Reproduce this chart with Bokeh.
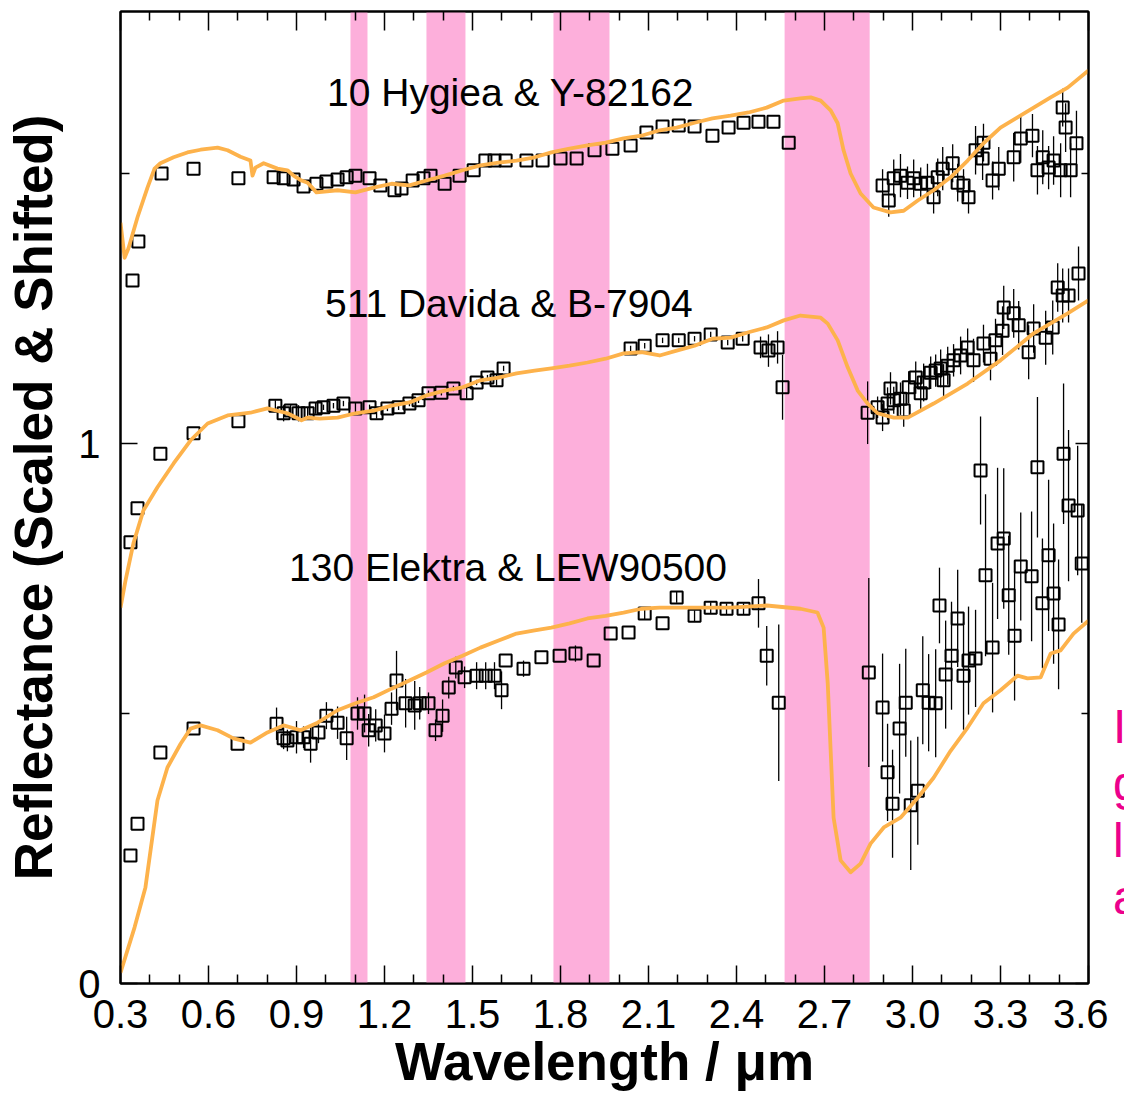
import numpy as np
from bokeh.plotting import figure
from bokeh.layouts import row
from bokeh.models import (FixedTicker, LinearAxis, PrintfTickFormatter, Div,
                          ColumnDataSource)
from bokeh.core.properties import value
from bokeh.embed import file_html
from bokeh.resources import INLINE

# ---------------- data ----------------
# absorption / telluric bands (micron)
band_lo = [1.084, 1.343, 1.776, 2.564]
band_hi = [1.142, 1.476, 1.967, 2.854]

# 10 Hygiea meteorite-model curve (orange)
hyg_model_x = [0.300, 0.314, 0.327, 0.358, 0.392, 0.416, 0.436, 0.481, 0.528, 0.573, 0.631, 0.665, 0.709, 0.743, 0.750,
               0.760, 0.788, 0.835, 0.869, 0.890, 0.917, 0.938, 0.968, 1.040, 1.101, 1.163, 1.224, 1.285, 1.343, 1.405,
               1.466, 1.527, 1.589, 1.650, 1.712, 1.769, 1.831, 1.892, 1.954, 2.015, 2.076, 2.138, 2.196, 2.257, 2.318,
               2.380, 2.441, 2.503, 2.561, 2.618, 2.653, 2.687, 2.721, 2.745, 2.765, 2.789, 2.823, 2.867, 2.925, 2.970,
               3.018, 3.072, 3.130, 3.188, 3.242, 3.300, 3.358, 3.413, 3.471, 3.529, 3.600]
hyg_model_y = [1.409, 1.344, 1.361, 1.419, 1.474, 1.509, 1.519, 1.530, 1.539, 1.544, 1.548, 1.543, 1.531, 1.524, 1.496,
               1.511, 1.519, 1.509, 1.506, 1.496, 1.487, 1.483, 1.465, 1.469, 1.465, 1.474, 1.481, 1.478, 1.487, 1.496,
               1.506, 1.515, 1.520, 1.524, 1.530, 1.539, 1.546, 1.552, 1.557, 1.565, 1.570, 1.580, 1.585, 1.594, 1.602,
               1.607, 1.613, 1.622, 1.635, 1.639, 1.641, 1.635, 1.617, 1.593, 1.543, 1.500, 1.463, 1.437, 1.428, 1.431,
               1.450, 1.469, 1.493, 1.524, 1.556, 1.585, 1.604, 1.622, 1.641, 1.659, 1.691]

# 511 Davida model curve
dav_model_x = [0.300, 0.317, 0.344, 0.378, 0.426, 0.481, 0.539, 0.597, 0.665, 0.743, 0.801, 0.869, 0.917, 0.938, 0.979,
               1.040, 1.101, 1.163, 1.224, 1.285, 1.343, 1.405, 1.466, 1.527, 1.589, 1.650, 1.712, 1.769, 1.831, 1.892,
               1.954, 2.015, 2.076, 2.138, 2.196, 2.257, 2.318, 2.380, 2.441, 2.503, 2.561, 2.618, 2.687, 2.711, 2.745,
               2.779, 2.813, 2.847, 2.881, 2.936, 2.984, 3.072, 3.188, 3.300, 3.413, 3.529, 3.600]
dav_model_y = [0.696, 0.746, 0.815, 0.876, 0.919, 0.963, 1.006, 1.037, 1.052, 1.057, 1.065, 1.056, 1.043, 1.048, 1.046,
               1.048, 1.056, 1.061, 1.070, 1.076, 1.089, 1.098, 1.104, 1.117, 1.122, 1.130, 1.135, 1.139, 1.144, 1.150,
               1.157, 1.167, 1.169, 1.163, 1.172, 1.181, 1.194, 1.196, 1.206, 1.215, 1.228, 1.237, 1.233, 1.222, 1.191,
               1.141, 1.098, 1.074, 1.056, 1.048, 1.048, 1.074, 1.111, 1.154, 1.204, 1.241, 1.265]

# 130 Elektra model curve
ele_model_x = [0.300, 0.348, 0.385, 0.426, 0.460, 0.505, 0.539, 0.573, 0.631, 0.685, 0.743, 0.801, 0.856, 0.914, 0.972,
               1.040, 1.101, 1.163, 1.224, 1.285, 1.343, 1.405, 1.466, 1.527, 1.589, 1.650, 1.712, 1.769, 1.831, 1.892,
               1.954, 2.015, 2.076, 2.138, 2.257, 2.380, 2.503, 2.618, 2.676, 2.697, 2.711, 2.721, 2.731, 2.755, 2.789,
               2.823, 2.857, 2.902, 2.959, 3.018, 3.072, 3.130, 3.188, 3.242, 3.300, 3.358, 3.392, 3.437, 3.471, 3.505,
               3.549, 3.600]
ele_model_y = [0.020, 0.104, 0.178, 0.339, 0.400, 0.444, 0.472, 0.478, 0.469, 0.454, 0.446, 0.465, 0.478, 0.469, 0.483,
               0.506, 0.519, 0.530, 0.546, 0.561, 0.576, 0.593, 0.607, 0.622, 0.635, 0.648, 0.654, 0.659, 0.667, 0.676,
               0.681, 0.687, 0.694, 0.696, 0.696, 0.696, 0.700, 0.694, 0.687, 0.659, 0.556, 0.431, 0.307, 0.228, 0.206,
               0.222, 0.259, 0.289, 0.307, 0.344, 0.381, 0.431, 0.474, 0.519, 0.543, 0.570, 0.565, 0.567, 0.611, 0.617,
               0.648, 0.672]

# 10 Hygiea asteroid spectrum (squares) with errors
hyg_x = [0.341, 0.361, 0.440, 0.549, 0.702, 0.822, 0.856, 0.890, 0.924, 0.968, 1.002, 1.040, 1.071, 1.101, 1.149,
         1.186, 1.234, 1.258, 1.296, 1.333, 1.357, 1.405, 1.456, 1.504, 1.544, 1.575, 1.613, 1.684, 1.739, 1.800,
         1.855, 1.916, 1.977, 2.039, 2.093, 2.148, 2.203, 2.257, 2.318, 2.373, 2.424, 2.475, 2.526, 2.578,
         2.898, 2.919, 2.936, 2.959, 2.983, 3.004, 3.028, 3.051, 3.072, 3.086, 3.103, 3.137, 3.154, 3.174, 3.191,
         3.215, 3.239, 3.242, 3.273, 3.294, 3.345, 3.369, 3.409, 3.426, 3.444, 3.464, 3.481, 3.505, 3.512, 3.522,
         3.539, 3.559]
hyg_y = [1.302, 1.374, 1.500, 1.509, 1.491, 1.493, 1.491, 1.489, 1.476, 1.481, 1.485, 1.489, 1.493, 1.496, 1.491,
         1.478, 1.469, 1.472, 1.487, 1.491, 1.496, 1.481, 1.496, 1.506, 1.524, 1.524, 1.524, 1.524, 1.524, 1.528,
         1.528, 1.543, 1.546, 1.552, 1.576, 1.587, 1.589, 1.587, 1.570, 1.585, 1.594, 1.596, 1.596, 1.557,
         1.478, 1.450, 1.491, 1.496, 1.483, 1.491, 1.481, 1.483, 1.456, 1.493, 1.509, 1.519, 1.483, 1.478, 1.456,
         1.543, 1.528, 1.557, 1.487, 1.509, 1.530, 1.565, 1.570, 1.506, 1.530, 1.511, 1.524, 1.506, 1.622, 1.585,
         1.506, 1.556]
hyg_err = [0.0, 0.0, 0.0, 0.0, 0.0, 0.0, 0.0, 0.0, 0.0, 0.0, 0.0, 0.0, 0.0, 0.0, 0.0,
           0.0, 0.0, 0.0, 0.0, 0.0, 0.0, 0.0, 0.0, 0.0, 0.0, 0.0, 0.0, 0.0, 0.0, 0.0,
           0.0, 0.0, 0.0, 0.0, 0.0, 0.0, 0.0, 0.0, 0.0, 0.0, 0.0, 0.0, 0.0, 0.0,
           0.030, 0.030, 0.035, 0.040, 0.030, 0.035, 0.030, 0.035, 0.030, 0.035, 0.040, 0.035, 0.035, 0.030, 0.030,
           0.045, 0.040, 0.035, 0.035, 0.040, 0.045, 0.045, 0.040, 0.045, 0.050, 0.040, 0.045, 0.050, 0.035, 0.045,
           0.050, 0.060]

# 511 Davida
dav_x = [0.334, 0.358, 0.436, 0.549, 0.702, 0.828, 0.856, 0.880, 0.907, 0.938, 0.965, 0.992, 1.026, 1.060, 1.101,
         1.149, 1.173, 1.210, 1.248, 1.285, 1.316, 1.350, 1.394, 1.435, 1.480, 1.514, 1.551, 1.582, 1.606,
         2.039, 2.087, 2.148, 2.203, 2.257, 2.312, 2.370, 2.421, 2.482, 2.509, 2.540, 2.557,
         2.847, 2.881, 2.898, 2.915, 2.925, 2.936, 2.959, 2.970, 2.987, 3.011, 3.028, 3.038, 3.062, 3.079, 3.096,
         3.106, 3.120, 3.140, 3.164, 3.188, 3.208, 3.242, 3.266, 3.283, 3.307, 3.311, 3.345, 3.362, 3.396, 3.413,
         3.454, 3.478, 3.495, 3.512, 3.532, 3.566]
dav_y = [0.817, 0.880, 0.981, 1.019, 1.041, 1.070, 1.056, 1.061, 1.056, 1.056, 1.065, 1.067, 1.070, 1.074, 1.065,
         1.067, 1.056, 1.065, 1.067, 1.074, 1.080, 1.093, 1.094, 1.102, 1.093, 1.113, 1.122, 1.117, 1.139,
         1.176, 1.181, 1.191, 1.191, 1.194, 1.202, 1.187, 1.194, 1.178, 1.172, 1.178, 1.104,
         1.057, 1.067, 1.048, 1.074, 1.102, 1.080, 1.083, 1.061, 1.104, 1.122, 1.093, 1.113, 1.131, 1.135, 1.139,
         1.117, 1.144, 1.154, 1.163, 1.178, 1.154, 1.185, 1.157, 1.191, 1.209, 1.252, 1.241, 1.219, 1.169, 1.213,
         1.196, 1.215, 1.289, 1.274, 1.274, 1.315]
dav_err = [0.0, 0.0, 0.0, 0.0, 0.0, 0.010, 0.015, 0.010, 0.015, 0.010, 0.010, 0.005, 0.005, 0.005, 0.010,
           0.005, 0.010, 0.005, 0.005, 0.005, 0.005, 0.005, 0.005, 0.005, 0.010, 0.005, 0.005, 0.010, 0.005,
           0.005, 0.005, 0.005, 0.005, 0.005, 0.005, 0.005, 0.005, 0.020, 0.030, 0.030, 0.060,
           0.058, 0.020, 0.025, 0.030, 0.030, 0.025, 0.030, 0.030, 0.030, 0.030, 0.030, 0.035, 0.030, 0.030, 0.035,
           0.030, 0.035, 0.030, 0.035, 0.035, 0.040, 0.035, 0.040, 0.040, 0.045, 0.040, 0.045, 0.045, 0.050, 0.045,
           0.050, 0.050, 0.045, 0.050, 0.050, 0.050]

# 130 Elektra
ele_x = [0.334, 0.358, 0.436, 0.549, 0.699, 0.832, 0.856, 0.869, 0.900, 0.924, 0.948, 0.975, 1.002, 1.040, 1.071,
         1.108, 1.132, 1.146, 1.170, 1.200, 1.224, 1.241, 1.272, 1.303, 1.320, 1.350, 1.374, 1.398, 1.419, 1.443,
         1.473, 1.514, 1.545, 1.575, 1.599, 1.613, 1.674, 1.735, 1.797, 1.851, 1.913, 1.971, 2.032, 2.087, 2.148,
         2.196, 2.257, 2.312, 2.366, 2.424, 2.475, 2.503, 2.544,
         2.851, 2.898, 2.915, 2.932, 2.956, 2.977, 2.994, 3.018, 3.035, 3.055, 3.079, 3.092, 3.113, 3.133, 3.154,
         3.174, 3.191, 3.215, 3.232, 3.249, 3.273, 3.290, 3.311, 3.328, 3.348, 3.369, 3.406, 3.426, 3.443, 3.464,
         3.481, 3.498, 3.515, 3.532, 3.563, 3.577]
ele_y = [0.237, 0.296, 0.428, 0.472, 0.444, 0.481, 0.454, 0.450, 0.456, 0.456, 0.444, 0.465, 0.496, 0.483, 0.454,
         0.500, 0.500, 0.469, 0.478, 0.463, 0.509, 0.561, 0.519, 0.515, 0.519, 0.519, 0.469, 0.496, 0.548, 0.585,
         0.567, 0.570, 0.570, 0.570, 0.543, 0.598, 0.583, 0.604, 0.607, 0.611, 0.598, 0.648, 0.650, 0.685, 0.667,
         0.715, 0.681, 0.696, 0.694, 0.694, 0.704, 0.607, 0.520,
         0.576, 0.511, 0.391, 0.333, 0.472, 0.520, 0.330, 0.357, 0.543, 0.520, 0.519, 0.700, 0.572, 0.607, 0.676,
         0.570, 0.598, 0.602, 0.950, 0.756, 0.622, 0.815, 0.824, 0.719, 0.644, 0.772, 0.754, 0.956, 0.704, 0.793,
         0.722, 0.665, 0.981, 0.885, 0.876, 0.778]
ele_err = [0.0, 0.0, 0.0, 0.0, 0.0, 0.030, 0.020, 0.020, 0.030, 0.020, 0.035, 0.020, 0.025, 0.030, 0.040,
           0.030, 0.035, 0.030, 0.030, 0.035, 0.030, 0.055, 0.045, 0.045, 0.030, 0.020, 0.020, 0.030, 0.020, 0.020,
           0.020, 0.025, 0.025, 0.025, 0.035, 0.0, 0.015, 0.0, 0.0, 0.015, 0.0, 0.0, 0.0, 0.010, 0.0,
           0.010, 0.010, 0.010, 0.010, 0.010, 0.045, 0.055, 0.145,
           0.175, 0.100, 0.090, 0.100, 0.120, 0.100, 0.120, 0.100, 0.100, 0.090, 0.100, 0.070, 0.100, 0.100, 0.090,
           0.100, 0.100, 0.090, 0.100, 0.150, 0.120, 0.140, 0.130, 0.110, 0.120, 0.100, 0.120, 0.130, 0.120, 0.140,
           0.130, 0.120, 0.130, 0.140, 0.120, 0.110]

# curve labels
label_text = ["10 Hygiea & Y-82162", "511 Davida & B-7904", "130 Elektra & LEW90500"]
label_x = [1.630, 1.624, 1.621]
label_y = [1.650, 1.259, 0.770]

# axis ticks
x_ticks = [0.3, 0.6, 0.9, 1.2, 1.5, 1.8, 2.1, 2.4, 2.7, 3.0, 3.3, 3.6]
y_ticks = [0, 1]
y_minor = [0.5, 1.5]

# clipped magenta annotation at the right edge (only first letters visible)
side_letters = ["I", "g", "l", "a"]

# ---------------- styles ----------------
ORANGE = "#fdb24b"
PINK = "#fdafdb"
MAGENTA = "#ec008c"
FONT = "Liberation Sans"

x_minor = [v for v in np.round(np.arange(0.3, 3.65, 0.1), 1) if v not in x_ticks]

p = figure(width=1108, height=1104, x_range=(0.3, 3.6), y_range=(0, 1.8),
           output_backend="svg", toolbar_location=None,
           min_border_left=120, min_border_right=20, min_border_top=11, min_border_bottom=121)
p.xgrid.visible = False
p.ygrid.visible = False
p.outline_line_color = "black"
p.outline_line_width = 2
p.background_fill_color = "white"
p.border_fill_color = "white"

xtick = FixedTicker(ticks=x_ticks, minor_ticks=x_minor)
ytick = FixedTicker(ticks=y_ticks, minor_ticks=y_minor)


def style_axis(ax, ticker, labels=True, major_len=18, minor_len=9):
    ax.ticker = ticker
    ax.axis_line_width = 2
    ax.axis_line_color = "black"
    ax.major_tick_in = major_len
    ax.major_tick_out = 0
    ax.minor_tick_in = minor_len
    ax.minor_tick_out = 0
    ax.major_tick_line_width = 1.5
    ax.minor_tick_line_width = 1.5
    ax.major_tick_line_color = "black"
    ax.minor_tick_line_color = "black"
    if labels:
        ax.major_label_text_font = FONT
        ax.major_label_text_font_size = "40px"
        ax.major_label_text_color = "black"
        ax.axis_label_text_font = FONT
        ax.axis_label_text_font_size = "53px"
        ax.axis_label_text_font_style = "bold"
        ax.axis_label_text_color = "black"
    else:
        ax.major_label_text_font_size = "1px"
        ax.major_label_text_color = None
        ax.major_label_standoff = 0


style_axis(p.xaxis[0], xtick)
p.xaxis[0].formatter = PrintfTickFormatter(format="%.1f")
p.xaxis[0].axis_label = "Wavelength / μm"
p.xaxis[0].major_label_standoff = 16
p.xaxis[0].axis_label_standoff = 1

style_axis(p.yaxis[0], ytick, major_len=17, minor_len=9)
p.yaxis[0].axis_label = "Reflectance (Scaled & Shifted)"
p.yaxis[0].major_label_standoff = 20
p.yaxis[0].axis_label_standoff = 12
p.yaxis[0].major_label_orientation = "horizontal"

top = LinearAxis()
style_axis(top, xtick, labels=False, major_len=19, minor_len=9)
p.add_layout(top, "above")
right = LinearAxis()
style_axis(right, ytick, labels=False, major_len=13, minor_len=7)
p.add_layout(right, "right")

# bands
p.quad(left=band_lo, right=band_hi, bottom=0, top=1.8, fill_color=PINK, line_alpha=0)

# spectra with error bars
for xs, ys, es in [(hyg_x, hyg_y, hyg_err), (dav_x, dav_y, dav_err), (ele_x, ele_y, ele_err)]:
    xa, ya, ea = np.array(xs), np.array(ys), np.array(es)
    src = ColumnDataSource(dict(x=xa, y=ya, lo=ya - ea, hi=ya + ea))
    p.segment(x0="x", y0="lo", x1="x", y1="hi", source=src, line_color="black", line_width=1.3)
    p.scatter(x="x", y="y", source=src, marker="square", size=12, line_color="black",
              line_width=2, fill_alpha=0)

# model curves
for mx, my in [(hyg_model_x, hyg_model_y), (dav_model_x, dav_model_y), (ele_model_x, ele_model_y)]:
    p.line(mx, my, line_color=ORANGE, line_width=3.8, line_join="round")

# curve labels
p.text(x=label_x, y=label_y, text=label_text, text_align="center", text_baseline="middle",
       text_font=value(FONT), text_font_size="39px", text_color="black")

# clipped magenta annotation at right edge
side_html = ('<div style="margin-top:693px;padding-left:0px;color:%s;'
             'font-family:\'Liberation Sans\', Arial, sans-serif;font-weight:normal;'
             'font-size:48px;line-height:57px;white-space:nowrap;">%s</div>'
             % (MAGENTA, "<br>".join(side_letters)))
side = Div(text=side_html, width=16, height=1104, styles={"overflow": "hidden"})

layout = row(p, side)
open("out.html", "w").write(file_html(layout, INLINE))
